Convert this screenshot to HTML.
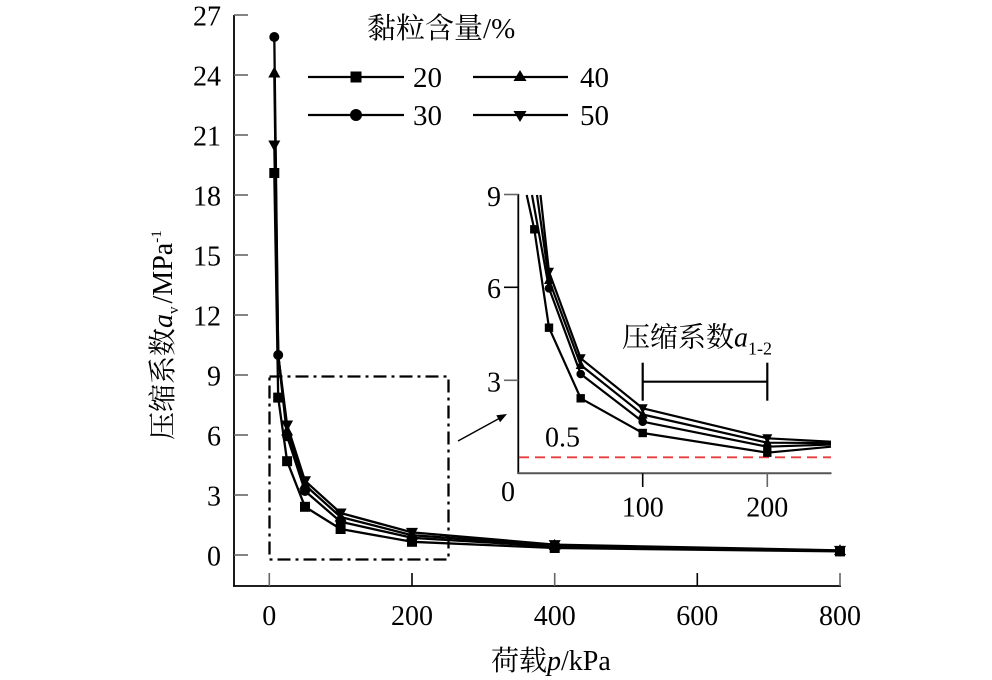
<!DOCTYPE html>
<html><head><meta charset="utf-8"><style>
html,body{margin:0;padding:0;background:#fff;}
svg{display:block;}
text{font-family:"Liberation Serif","Noto Serif CJK SC",serif;fill:#000;}
.cjk{font-family:"Liberation Serif","Noto Serif CJK SC",serif;}
</style></head><body>
<svg width="992" height="680" viewBox="0 0 992 680" xmlns="http://www.w3.org/2000/svg">
<defs>
<path id="sq" d="M-5,-5h10v10h-10z" fill="#000"/>
<circle id="ci" r="5" fill="#000"/>
<path id="tu" d="M0,-6.5L6,4.5L-6,4.5Z" fill="#000"/>
<path id="td" d="M0,6.5L6,-4.5L-6,-4.5Z" fill="#000"/>
<path id="sqs" d="M-4.2,-4.2h8.4v8.4h-8.4z" fill="#000"/>
<circle id="cis" r="4.3" fill="#000"/>
<path id="tus" d="M0,-5.5L5,4L-5,4Z" fill="#000"/>
<path id="tds" d="M0,5.5L5,-4L-5,-4Z" fill="#000"/>
</defs>

<!-- main axes -->
<line x1="234" y1="15" x2="234" y2="586.5" stroke="#000" stroke-width="1.8"/>
<line x1="233" y1="586" x2="841" y2="586" stroke="#000" stroke-width="1.8"/>
<g stroke="#666" stroke-width="1.6">
<line x1="234" y1="15" x2="248" y2="15"/>
<line x1="234" y1="75" x2="248" y2="75"/>
<line x1="234" y1="135" x2="248" y2="135"/>
<line x1="234" y1="195" x2="248" y2="195"/>
<line x1="234" y1="255" x2="248" y2="255"/>
<line x1="234" y1="315" x2="248" y2="315"/>
<line x1="234" y1="375" x2="248" y2="375"/>
<line x1="234" y1="435" x2="248" y2="435"/>
<line x1="234" y1="495" x2="248" y2="495"/>
<line x1="234" y1="555" x2="248" y2="555"/>
<line x1="269.3" y1="586" x2="269.3" y2="573"/>
<line x1="554.7" y1="586" x2="554.7" y2="573"/>
<line x1="840" y1="586" x2="840" y2="573"/>
</g>
<g stroke="#000" stroke-width="1.6">
<line x1="412" y1="586" x2="412" y2="573"/>
<line x1="697.3" y1="586" x2="697.3" y2="573"/>
</g>
<g font-size="28" text-anchor="end">
<text x="221" y="25.5">27</text>
<text x="221" y="85.5">24</text>
<text x="221" y="145.5">21</text>
<text x="221" y="205.5">18</text>
<text x="221" y="265.5">15</text>
<text x="221" y="325.5">12</text>
<text x="221" y="385.5">9</text>
<text x="221" y="445.5">6</text>
<text x="221" y="505.5">3</text>
<text x="221" y="565.5">0</text>
</g>
<g font-size="28" text-anchor="middle">
<text x="269.3" y="625">0</text>
<text x="412" y="625">200</text>
<text x="554.7" y="625">400</text>
<text x="697.3" y="625">600</text>
<text x="840" y="625">800</text>
</g>

<!-- axis titles -->
<text x="491" y="670" font-size="28"><tspan class="cjk">荷载</tspan><tspan font-style="italic">p</tspan>/kPa</text>
<text transform="translate(172,440) rotate(-90)" font-size="28"><tspan class="cjk">压缩系数</tspan><tspan font-style="italic">a</tspan><tspan font-size="15" dy="6">v</tspan><tspan dy="-6" dx="3">/MPa</tspan><tspan font-size="15" dy="-11">-1</tspan></text>

<!-- dash-dot box -->
<rect x="269.5" y="376.5" width="179" height="183" fill="none" stroke="#000" stroke-width="2.3" stroke-dasharray="13 5 3 5"/>

<!-- main series -->
<g fill="none" stroke="#000" stroke-width="2.3" stroke-linejoin="round">
<polyline points="274.3,173 278.2,397.6 287.1,461.2 305,506.8 340.6,529 412,541.8 554.7,548 840,551.4"/>
<polyline points="274.3,37 278.2,355 287.1,436.2 305,491 340.6,521.8 412,537.8 554.7,546.6 840,551"/>
<polyline points="274.3,73 278.2,355 287.1,431 305,485 340.6,517 412,535.2 554.7,545.4 840,550.6"/>
<polyline points="274.3,145 278.2,355 287.1,425 305,480.8 340.6,513 412,532.4 554.7,544.6 840,550.4"/>
</g>
<g>
<use href="#sq" x="274.3" y="173"/><use href="#sq" x="278.2" y="397.6"/><use href="#sq" x="287.1" y="461.2"/><use href="#sq" x="305" y="506.8"/><use href="#sq" x="340.6" y="529"/><use href="#sq" x="412" y="541.8"/><use href="#sq" x="554.7" y="548"/><use href="#sq" x="840" y="551.4"/>
<use href="#ci" x="274.3" y="37"/><use href="#ci" x="278.2" y="355"/><use href="#ci" x="287.1" y="436.2"/><use href="#ci" x="305" y="491"/><use href="#ci" x="340.6" y="521.8"/><use href="#ci" x="412" y="537.8"/><use href="#ci" x="554.7" y="546.6"/><use href="#ci" x="840" y="551"/>
<use href="#tu" x="274.3" y="73"/><use href="#tu" x="287.1" y="431"/><use href="#tu" x="305" y="485"/><use href="#tu" x="340.6" y="517"/><use href="#tu" x="412" y="535.2"/><use href="#tu" x="554.7" y="545.4"/><use href="#tu" x="840" y="550.6"/>
<use href="#td" x="274.3" y="145"/><use href="#td" x="287.1" y="425"/><use href="#td" x="305" y="480.8"/><use href="#td" x="340.6" y="513"/><use href="#td" x="412" y="532.4"/><use href="#td" x="554.7" y="544.6"/><use href="#td" x="840" y="550.4"/>
</g>

<!-- legend -->
<text x="367" y="38" font-size="29"><tspan class="cjk">黏粒含量</tspan>/%</text>
<g stroke="#000" stroke-width="2.2">
<line x1="308" y1="77" x2="404" y2="77"/>
<line x1="308" y1="115" x2="404" y2="115"/>
<line x1="473" y1="77" x2="568" y2="77"/>
<line x1="473" y1="115" x2="568" y2="115"/>
</g>
<path d="M350.5,71.5h11v11h-11z" fill="#000"/>
<circle cx="356" cy="115" r="6" fill="#000"/>
<path d="M520,70L526.5,81L513.5,81Z" fill="#000"/>
<path d="M520,122L526.5,111L513.5,111Z" fill="#000"/>
<g font-size="29">
<text x="413" y="87">20</text>
<text x="413" y="125">30</text>
<text x="580" y="87">40</text>
<text x="580" y="125">50</text>
</g>

<!-- arrow -->
<line x1="458" y1="441" x2="500" y2="418" stroke="#000" stroke-width="1.4"/>
<path d="M507,414L500.1,422.3L496.3,415.3Z" fill="#000"/>

<!-- inset -->
<line x1="518.3" y1="194" x2="518.3" y2="474" stroke="#000" stroke-width="1.8"/>
<line x1="518" y1="473.3" x2="831.5" y2="473.3" stroke="#555" stroke-width="2"/>
<g stroke="#666" stroke-width="1.6">
<line x1="504" y1="194.5" x2="518.3" y2="194.5"/>
<line x1="504" y1="380.3" x2="518.3" y2="380.3"/>
<line x1="767.3" y1="473.3" x2="767.3" y2="487"/>
</g>
<g stroke="#000" stroke-width="1.6">
<line x1="504" y1="287.3" x2="518.3" y2="287.3"/>
<line x1="642.7" y1="473.3" x2="642.7" y2="487"/>
</g>
<g font-size="28" text-anchor="end">
<text x="501" y="206">9</text>
<text x="501" y="298">6</text>
<text x="501" y="391.5">3</text>
</g>
<text x="508" y="501" font-size="28" text-anchor="middle">0</text>
<text x="642.7" y="516.7" font-size="28" text-anchor="middle">100</text>
<text x="767.3" y="516.7" font-size="28" text-anchor="middle">200</text>

<line x1="519" y1="457.3" x2="831" y2="457.3" stroke="#e83c3e" stroke-width="1.9" stroke-dasharray="10 6"/>
<text x="545" y="446.7" font-size="28">0.5</text>

<g fill="none" stroke="#000" stroke-width="2.2" stroke-linejoin="round">
<polyline points="526.7,195 534.3,229.3 549,327.7 580.7,398.3 642.7,433 767.3,452.7 831,446.7"/>
<polyline points="532,195 549,288.3 580.7,374 642.7,421.7 767.3,446.7 831,444.5"/>
<polyline points="537,195 549,280 580.7,365 642.7,414.5 767.3,442.7 831,443"/>
<polyline points="540.5,195 549,271.7 580.7,358.3 642.7,408.3 767.3,438.3 831,441.7"/>
</g>
<g>
<use href="#sqs" x="534.3" y="229.3"/><use href="#sqs" x="549" y="327.7"/><use href="#sqs" x="580.7" y="398.3"/><use href="#sqs" x="642.7" y="433"/><use href="#sqs" x="767.3" y="452.7"/>
<use href="#cis" x="549" y="288.3"/><use href="#cis" x="580.7" y="374"/><use href="#cis" x="642.7" y="421.7"/><use href="#cis" x="767.3" y="446.7"/>
<use href="#tus" x="549" y="280"/><use href="#tus" x="580.7" y="365"/><use href="#tus" x="642.7" y="414.5"/><use href="#tus" x="767.3" y="442.7"/>
<use href="#tds" x="549" y="271.7"/><use href="#tds" x="580.7" y="358.3"/><use href="#tds" x="642.7" y="408.3"/><use href="#tds" x="767.3" y="438.3"/>
</g>

<!-- bracket -->
<g stroke="#000" stroke-width="2.2">
<line x1="642.7" y1="381.7" x2="767.3" y2="381.7"/>
<line x1="642.7" y1="362.7" x2="642.7" y2="400.7"/>
<line x1="767.3" y1="362.7" x2="767.3" y2="400.7"/>
</g>
<text x="622" y="346.7" font-size="28"><tspan class="cjk">压缩系数</tspan><tspan font-style="italic">a</tspan><tspan font-size="18" dy="8">1-2</tspan></text>
</svg>
</body></html>
